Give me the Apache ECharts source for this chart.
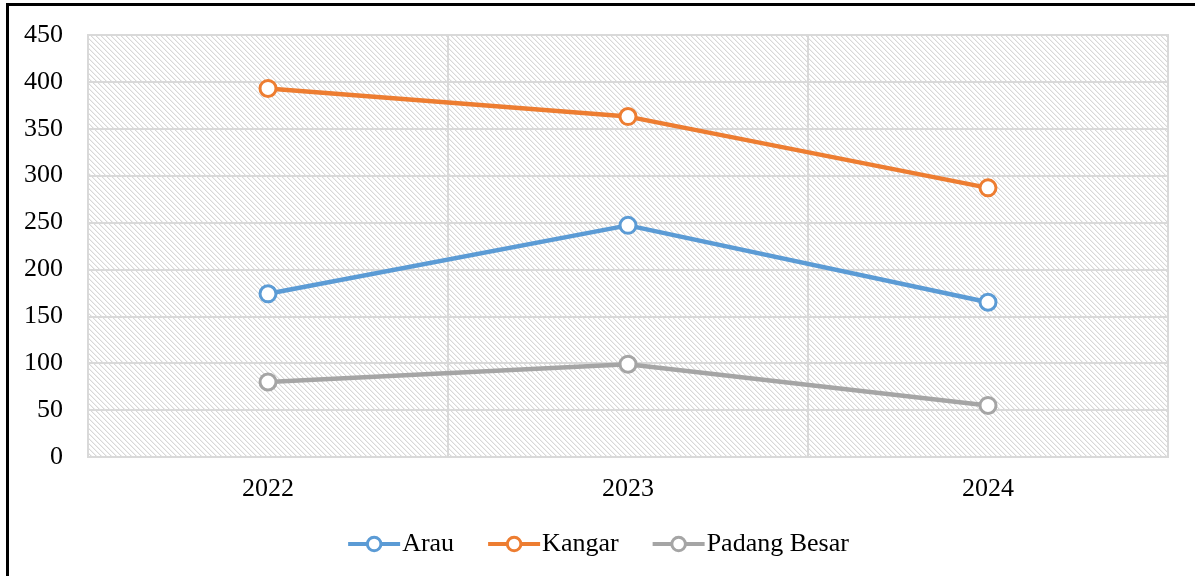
<!DOCTYPE html>
<html>
<head>
<meta charset="utf-8">
<script src="https://cdn.jsdelivr.net/npm/echarts@6/dist/echarts.min.js"></script>
<style>
html,body{margin:0;padding:0;background:#fff;overflow:hidden;}
#frame{position:absolute;left:6px;top:3px;width:1200px;height:600px;border-left:3px solid #000;border-top:3px solid #000;box-sizing:border-box;}
#chart{position:absolute;left:0;top:0;width:1195px;height:576px;}
</style>
</head>
<body>
<div id="frame"></div>
<div id="chart"></div>
<script>
const categories = ['2022', '2023', '2024'];
const arau = [174, 247, 165];
const kangar = [393, 363, 287];
const padangBesar = [80, 99, 55];
const yTicks = [0, 50, 100, 150, 200, 250, 300, 350, 400, 450];
const seriesNames = ['Arau', 'Kangar', 'Padang Besar'];
const colors = ['#5B9BD5', '#ED7D31', '#A5A5A5'];

const T = 5;
const tile = document.createElement('canvas');
tile.width = T; tile.height = T;
const tc = tile.getContext('2d');
tc.fillStyle = '#ffffff';
tc.fillRect(0, 0, T, T);
tc.fillStyle = '#d8d8d8';
for (let i = 0; i < T; i++) { tc.fillRect(i, i, 1, 1); }
tc.fillStyle = '#f0f0f0';
for (let i = 0; i < T; i++) { tc.fillRect((i + 1) % T, i, 1, 1); }

const font = '"Liberation Serif", "Times New Roman", serif';
const chart = echarts.init(document.getElementById('chart'));
function mk(name, data, color) {
  return {
    name, type: 'line', data,
    symbol: 'circle', symbolSize: 16,
    lineStyle: { color, width: 4.5 },
    itemStyle: { color: '#ffffff', borderColor: color, borderWidth: 3 },
    emphasis: { disabled: true }
  };
}
chart.setOption({
  animation: false,
  backgroundColor: 'transparent',
  textStyle: { fontFamily: font },
  grid: {
    left: 88, right: 27, top: 35, bottom: 119,
    show: true, backgroundColor: { image: tile, repeat: 'repeat' },
    borderColor: '#d9d9d9', borderWidth: 2
  },
  legend: {
    bottom: 14, left: 'center',
    itemWidth: 52, itemHeight: 17, itemGap: 32,
    textStyle: { fontFamily: font, fontSize: 26, color: '#000', padding: [0, 0, 0, -3] },
    data: seriesNames.map((n, i) => ({
      name: n,
      lineStyle: { color: colors[i], width: 4 },
      itemStyle: { color: '#ffffff', borderColor: colors[i], borderWidth: 3 }
    }))
  },
  xAxis: {
    type: 'category', data: categories, boundaryGap: true,
    axisLine: { show: true, lineStyle: { color: '#d9d9d9', width: 2 } },
    axisTick: { show: false },
    splitLine: { show: true, lineStyle: { color: '#d9d9d9', width: 2 } },
    axisLabel: { fontFamily: font, fontSize: 26, color: '#000', margin: 19 }
  },
  yAxis: {
    type: 'value', min: 0, max: 450, interval: 50,
    axisLine: { show: false }, axisTick: { show: false },
    splitLine: { lineStyle: { color: '#d9d9d9', width: 2 } },
    axisLabel: { fontFamily: font, fontSize: 26, color: '#000', margin: 25,
      formatter: v => yTicks.includes(v) ? String(v) : '' }
  },
  series: [
    mk(seriesNames[0], arau, colors[0]),
    mk(seriesNames[1], kangar, colors[1]),
    mk(seriesNames[2], padangBesar, colors[2])
  ]
});
</script>
</body>
</html>
